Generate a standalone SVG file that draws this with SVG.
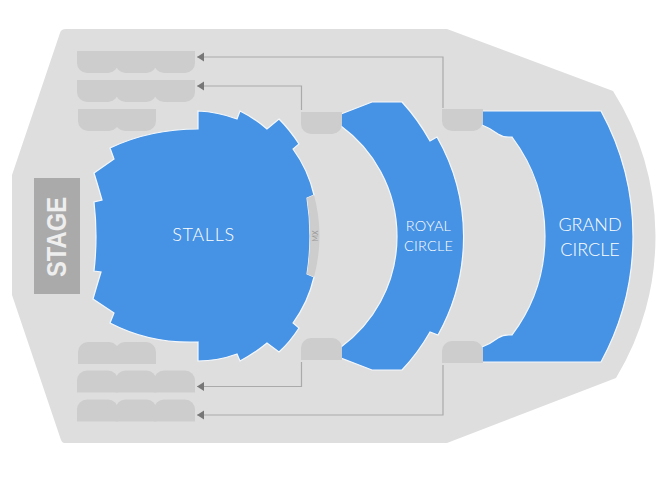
<svg xmlns="http://www.w3.org/2000/svg" xmlns:xlink="http://www.w3.org/1999/xlink" width="670" height="480" viewBox="0 0 670 480">
<style>
.blue{fill:#4692e4;stroke:#f4f8fc;stroke-width:1.2}
.seat{fill:#cdcdcd}
.lbl{font-family:"Lato","Open Sans",sans-serif;font-weight:300;fill:#fff;text-anchor:middle}
.conn{fill:none;stroke:#aaa;stroke-width:1.2}
</style>
<defs>
<path id="u" class="seat" d="M0 0H41V12A10 10 0 0 1 31 22H10A10 10 0 0 1 0 12Z"/>
<path id="d" class="seat" d="M0 22H41V10A10 10 0 0 0 31 0H10A10 10 0 0 0 0 10Z"/>
<marker id="arr" markerUnits="userSpaceOnUse" markerWidth="8" markerHeight="10" refX="7" refY="5" orient="auto"><path d="M0 0.500L7 5L0 9.500Z" fill="#777"/></marker>
</defs>
<path id="hall" fill="#dedede" d="M66 29H447L613 91A272 272 0 0 1 616 378L447 443H64Q62 443 61 440L12 295V175L60 33Q61 29 66 29Z"/>
<g id="stage"><rect x="34" y="178" width="46" height="116" fill="#aaa"/><text transform="translate(66,237) rotate(-90)" text-anchor="middle" font-family="'Liberation Sans',Arial,sans-serif" font-weight="700" font-size="28" fill="#eee" textLength="80" lengthAdjust="spacingAndGlyphs">STAGE</text></g>
<g id="stalls"><path class="blue" d="M198 111A125 125 0 0 1 237 119L240 111A125 125 0 0 1 267 129L279 119Q290 130 299 144L293 149A125 125 0 0 1 314 195L307 198Q313 236 307 274L314 277A125 125 0 0 1 293 323L299 328Q290 342 279 352L267 343Q255 353 240 361L237 354Q218 361 198 361V342Q150 344 110 323L114 313L93 299Q97 285 101 272L94 271Q98 236 94 202L102 200Q98 186 94 173L114 159L110 148Q150 129 198 129Z"/><text class="lbl" x="203.500" y="241" font-size="18" letter-spacing=".7">STALLS</text></g>
<g id="mix"><path class="seat" d="M307 198L314 195Q325 236 314 277L307 274Q313 236 307 198Z"/><text transform="translate(318,236) rotate(-90)" text-anchor="middle" font-family="Lato,sans-serif" font-size="7" fill="#999">MX</text></g>
<g id="royal-circle"><path class="blue" d="M341 114L372 102H402A200 200 0 0 1 430 141L437 137A201 201 0 0 1 438 335L430 332A200 200 0 0 1 402 370H372L341 358V347A137 137 0 0 0 341 126Z"/><text class="lbl" x="428.500" y="231" font-size="14.500" letter-spacing=".2">ROYAL</text><text class="lbl" x="428.500" y="251" font-size="14.500" letter-spacing=".2">CIRCLE</text></g>
<g id="grand-circle"><path class="blue" d="M482 111H601A262 262 0 0 1 601 362H482V347Q490 344 498 338Q504 334 512 335A165 165 0 0 0 512 137Q504 138 498 134Q490 128 482 125Z"/><text class="lbl" x="590" y="231" font-size="18">GRAND</text><text class="lbl" x="590" y="256" font-size="18">CIRCLE</text></g>
<g id="row-a1"><use xlink:href="#u" x="77" y="51"/><use xlink:href="#u" x="115.500" y="51"/><use xlink:href="#u" x="154" y="51"/></g>
<g id="row-a2"><use xlink:href="#u" x="77" y="80"/><use xlink:href="#u" x="115.500" y="80"/><use xlink:href="#u" x="154" y="80"/></g>
<g id="row-a3"><use xlink:href="#u" x="78" y="109"/><use xlink:href="#u" x="115" y="109"/></g>
<g id="row-b3"><use xlink:href="#d" x="78" y="342"/><use xlink:href="#d" x="115" y="342"/></g>
<g id="row-b2"><use xlink:href="#d" x="77" y="370.500"/><use xlink:href="#d" x="115.500" y="370.500"/><use xlink:href="#d" x="154" y="370.500"/></g>
<g id="row-b1"><use xlink:href="#d" x="77" y="399.500"/><use xlink:href="#d" x="115.500" y="399.500"/><use xlink:href="#d" x="154" y="399.500"/></g>
<g id="block-1"><use xlink:href="#u" x="301" y="112"/></g>
<g id="block-2"><use xlink:href="#d" x="301" y="338"/></g>
<g id="block-3"><use xlink:href="#u" x="442" y="109"/></g>
<g id="block-4"><use xlink:href="#d" x="442" y="341"/></g>
<g id="connectors">
<path class="conn" d="M443 108V57H197" marker-end="url(#arr)"/>
<path class="conn" d="M301.500 110V86H197" marker-end="url(#arr)"/>
<path class="conn" d="M301.500 362V386.500H197" marker-end="url(#arr)"/>
<path class="conn" d="M443 365V415H197" marker-end="url(#arr)"/>
</g>
</svg>
